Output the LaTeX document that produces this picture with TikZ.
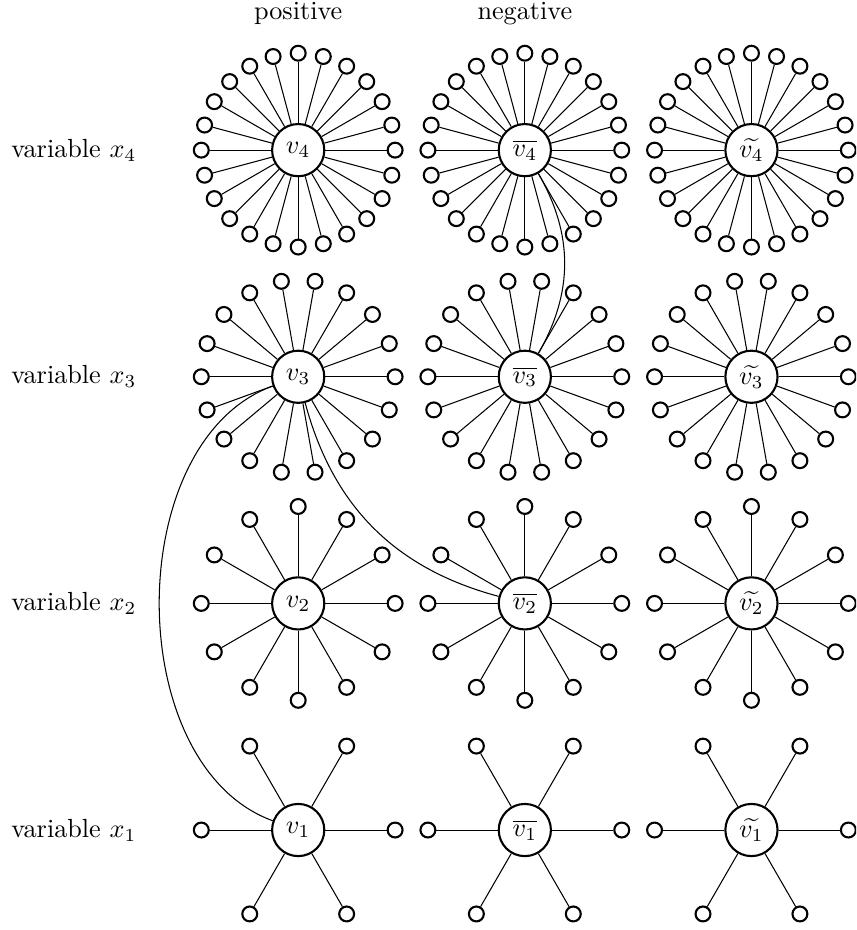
\documentclass[tikz,border=0pt]{standalone}
\tikzset{
  literal node/.style={
    circle,
    draw=black,
    thick,
    minimum size=0.7cm,
    inner sep=0pt
  },
  leaf node/.style={
    circle,
    draw=black,
    thick,
    minimum size=0.2cm,
    inner sep=0pt
  },
  head node/.style={text height=1.5ex, text depth=0.25ex}
}
\newcommand{\spokes}[2]{%
  \foreach \k in {1,...,#2}{
    \path (#1) ++({360*\k/#2}:1.3) node[leaf node] (#1-\k) {};
    \draw (#1) -- (#1-\k);
  }
}

\begin{document}
\begin{tikzpicture}
\useasboundingbox (-4,-1.341) rectangle (7.485,11.134);
\clip (-4,-1.341) rectangle (7.485,11.134);

\node[head node] (pos) at (0,10.966) {positive};
\node[head node] (neg) at (3.04,10.966) {negative};

\foreach \i in {1,...,4}{
  \node (var-\i) at (-3.01,{3.04*(\i-1)}) {variable $x_\i$};
  \node[literal node] (pos-\i) at (0,{3.04*(\i-1)}) {$v_\i$};
  \node[literal node] (neg-\i) at (3.04,{3.04*(\i-1)}) {$\overline{v_\i}$};
  \node[literal node] (til-\i) at (6.08,{3.04*(\i-1)}) {$\widetilde{v_\i}$};
  \pgfmathtruncatemacro{\n}{6*\i}
  \spokes{pos-\i}{\n}
  \spokes{neg-\i}{\n}
  \spokes{til-\i}{\n}
}

% links between the literals
\draw (pos-3) to[out=200, in=160, looseness=0.95] (pos-1);
\draw (pos-3) to[bend right=30] (neg-2);
\draw (neg-4) to[bend left=30] (neg-3);
\end{tikzpicture}
\end{document}
